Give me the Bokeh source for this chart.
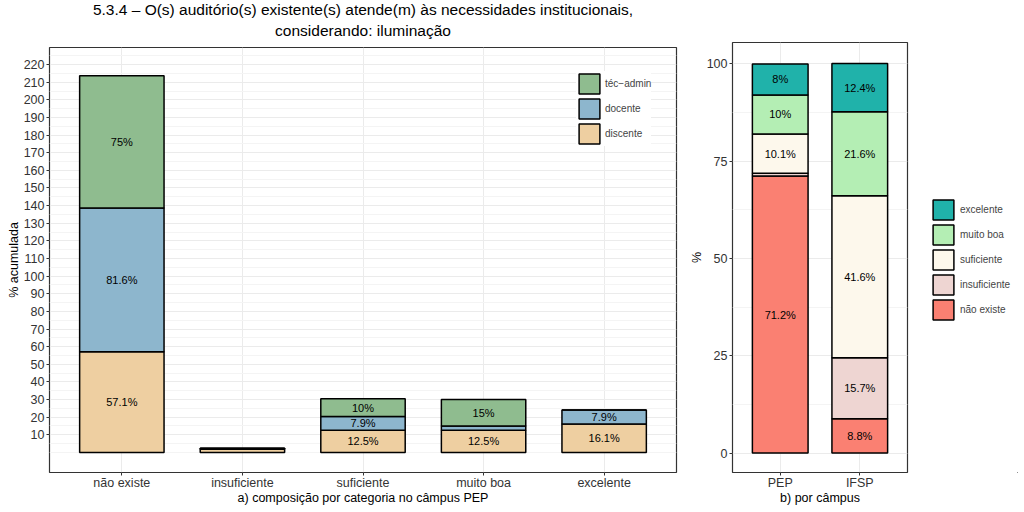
from bokeh.plotting import figure
from bokeh.models import (ColumnDataSource, FixedTicker, Legend, LegendItem, Range1d, Title,
                          BoxAnnotation)
from bokeh.layouts import row
from bokeh.embed import file_html
from bokeh.resources import INLINE
from bokeh.core.properties import value

# ---------------- data ----------------
categories = ["não existe", "insuficiente", "suficiente", "muito boa", "excelente"]
discente = [57.1, 1.8, 12.5, 12.5, 16.1]
docente = [81.6, 0.5, 7.9, 2.5, 7.9]
tec_admin = [75.0, 0.0, 10.0, 15.0, 0.0]
groups = ["discente", "docente", "téc−admin"]
group_colors = ["#EECFA1", "#8DB6CD", "#8FBC8F"]

campus = ["PEP", "IFSP"]
levels = ["não existe", "insuficiente", "suficiente", "muito boa", "excelente"]
pep = [71.2, 0.7, 10.1, 10.0, 8.0]
ifsp = [8.8, 15.7, 41.6, 21.6, 12.4]
level_colors = ["#FA8072", "#EED5D2", "#FDF8EC", "#B4EEB4", "#20B2AA"]

left_yticks = list(range(10, 230, 10))
right_yticks = [0, 25, 50, 75, 100]

title_lines = ["5.3.4 – O(s) auditório(s) existente(s) atende(m) às necessidades institucionais,",
               "considerando: iluminação"]

FONT = "Liberation Sans"
GRID_MAJOR = "#EBEBEB"
GRID_MINOR = "#F4F4F4"
H = 507


def style(p):
    p.outline_line_color = "#333333"
    p.outline_line_width = 1.2
    p.background_fill_color = "white"
    p.border_fill_color = "white"
    for ax in (p.xaxis[0], p.yaxis[0]):
        ax.axis_line_color = None
        ax.major_tick_line_color = "#333333"
        ax.major_tick_out = 3
        ax.major_tick_in = 0
        ax.minor_tick_line_color = None
        ax.major_label_text_font = FONT
        ax.major_label_text_font_size = "12.5px"
        ax.major_label_text_color = "#333333"
        ax.major_label_standoff = 1
        ax.axis_label_text_font = FONT
        ax.axis_label_text_font_size = "12.5px"
        ax.axis_label_text_font_style = "normal"
        ax.axis_label_text_color = "black"
        ax.axis_label_standoff = 0
    p.xaxis[0].major_label_standoff = 0
    p.xaxis[0].axis_label_standoff = -2
    p.xgrid.grid_line_color = GRID_MAJOR
    p.ygrid.grid_line_color = GRID_MAJOR
    p.ygrid.minor_grid_line_color = GRID_MINOR


def style_title(t, standoff):
    t.align = "center"
    t.text_font = FONT
    t.text_font_size = "15.5px"
    t.text_font_style = "normal"
    t.text_color = "black"
    t.standoff = standoff
    t.offset = 0


# ---------------- left panel ----------------
xs = [i + 1 for i in range(len(categories))]
src = ColumnDataSource(dict(x=xs, discente=discente, docente=docente, tec=tec_admin))

p1 = figure(width=683, height=H, output_backend="svg", toolbar_location=None,
            x_range=Range1d(0.4, len(categories) + 0.6), y_range=Range1d(-11.4, 229.7),
            min_border_left=49, min_border_right=7, min_border_top=47, min_border_bottom=30)
p1.title.text = title_lines[0]
style_title(p1.title, -12)
sub = Title(text=title_lines[1])
style_title(sub, 17)
p1.add_layout(sub, "above")

rs = p1.vbar_stack(["discente", "docente", "tec"], x="x", width=0.7, source=src,
                   fill_color=group_colors, line_color="black", line_width=1.5)
style(p1)
yt1 = FixedTicker(ticks=left_yticks,
                  minor_ticks=[v for v in range(0, 230, 5) if v not in left_yticks])
p1.yaxis[0].ticker = yt1
p1.ygrid.ticker = yt1
xt1 = FixedTicker(ticks=xs)
p1.xaxis[0].ticker = xt1
p1.xgrid.ticker = xt1
p1.xaxis[0].major_label_overrides = {x: c for x, c in zip(xs, categories)}
p1.xaxis[0].axis_label = "a) composição por categoria no câmpus PEP"
p1.yaxis[0].axis_label = "% acumulada"

# value labels
lx, ly, lt = [], [], []
series = [discente, docente, tec_admin]
for i, x in enumerate(xs):
    base = 0.0
    for s in series:
        v = s[i]
        if v >= 5:
            lx.append(x)
            ly.append(base + v / 2)
            lt.append(f"{v:g}%")
        base += v
p1.text(x=lx, y=ly, text=lt, text_align="center", text_baseline="middle",
        text_font=value(FONT), text_font_size="11px", text_color="black")

leg1 = Legend(items=[LegendItem(label=groups[k], renderers=[rs[k]]) for k in (2, 1, 0)],
              location=(527, 326), background_fill_color="white", background_fill_alpha=1,
              border_line_color=None, glyph_width=26, glyph_height=25, label_height=25,
              spacing=0, padding=10, label_standoff=3,
              label_text_font=FONT, label_text_font_size="10px")
p1.add_layout(leg1)

# ---------------- right panel ----------------
cx = [i + 1 for i in range(len(campus))]
rdata = dict(x=cx)
keys = []
for j in range(len(levels)):
    k = f"l{j}"
    keys.append(k)
    rdata[k] = [pep[j], ifsp[j]]
src2 = ColumnDataSource(rdata)

p2 = figure(width=227, height=H, output_backend="svg", toolbar_location=None,
            x_range=Range1d(0.4, len(campus) + 0.6), y_range=Range1d(-5, 105.5),
            min_border_left=49, min_border_right=3, min_border_top=42, min_border_bottom=30)
p2.frame_align = False
rs2 = p2.vbar_stack(keys, x="x", width=0.7, source=src2,
                    fill_color=level_colors, line_color="black", line_width=1.5)
style(p2)
yt2 = FixedTicker(ticks=right_yticks, minor_ticks=[12.5, 37.5, 62.5, 87.5])
p2.yaxis[0].ticker = yt2
p2.ygrid.ticker = yt2
xt2 = FixedTicker(ticks=cx)
p2.xaxis[0].ticker = xt2
p2.xgrid.ticker = xt2
p2.xaxis[0].major_label_overrides = {x: c for x, c in zip(cx, campus)}
p2.xaxis[0].axis_label = "b) por câmpus"
p2.yaxis[0].axis_label = "%"

rx, ry, rt = [], [], []
for i, x in enumerate(cx):
    vals = [pep, ifsp][i]
    base = 0.0
    for v in vals:
        if v >= 5:
            rx.append(x)
            ry.append(base + v / 2)
            rt.append(f"{v:g}%")
        base += v
p2.text(x=rx, y=ry, text=rt, text_align="center", text_baseline="middle",
        text_font=value(FONT), text_font_size="11px", text_color="black")

# ---------------- legend column for the right panel ----------------
# same stacked bars, kept outside the visible range and masked, only to feed the legend keys
p3 = figure(width=108, height=H, output_backend="svg", toolbar_location=None,
            x_range=Range1d(-10, -9), y_range=Range1d(200, 201),
            x_axis_type=None, y_axis_type=None, min_border=0)
p3.outline_line_color = None
p3.border_fill_color = "white"
p3.background_fill_color = "white"
key_renderers = p3.vbar_stack(keys, x="x", width=0.7, source=src2,
                              fill_color=level_colors, line_color="black", line_width=1.5)
p3.add_layout(BoxAnnotation(fill_color="white", fill_alpha=1.0, line_color=None, level="guide"))
leg2 = Legend(items=[LegendItem(label=levels[k], renderers=[key_renderers[k]])
                     for k in range(len(levels) - 1, -1, -1)],
              location=(20, 150), background_fill_alpha=0, border_line_color=None,
              glyph_width=26, glyph_height=25, label_height=25, spacing=0,
              padding=6, label_standoff=4,
              label_text_font=FONT, label_text_font_size="10px")
p3.add_layout(leg2)

layout = row(p1, p2, p3)
open("out.html", "w").write(file_html(layout, INLINE))
